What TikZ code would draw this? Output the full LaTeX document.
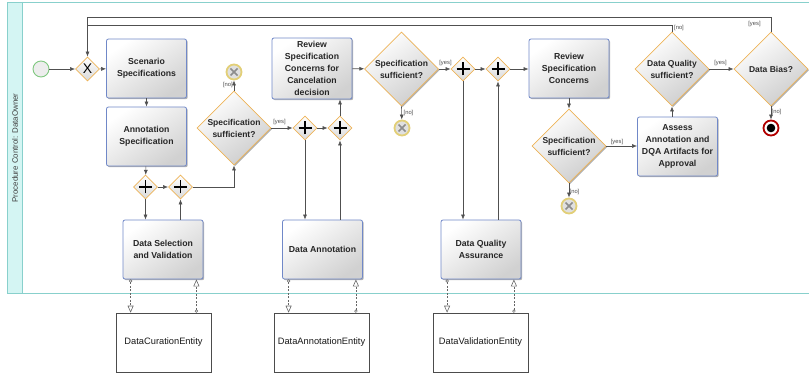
\documentclass[tikz,border=0pt]{standalone}
\usepackage{fontspec}
\setmainfont{Liberation Sans}
\usetikzlibrary{shapes.geometric,arrows.meta,shadows,calc}
\definecolor{lane}{HTML}{88D0CC}
\definecolor{lanefill}{HTML}{D4F5F3}
\definecolor{taskb}{HTML}{7088C8}
\definecolor{gwb}{HTML}{EEB458}
\definecolor{flowc}{HTML}{505050}
\definecolor{startc}{HTML}{80C880}
\definecolor{cancelc}{HTML}{E2CF78}
\begin{document}
\begin{tikzpicture}[x=1pt,y=-1pt,
  task/.style={rectangle, rounded corners=2pt, draw=taskb, line width=0.8pt, top color=white, bottom color=black!18,
    shading angle=35,
    minimum width=80pt, minimum height=59pt, align=center, text=black!85,
    font=\fontsize{8.7}{12}\selectfont\bfseries,
    drop shadow={shadow xshift=1.2pt, shadow yshift=-1.2pt, opacity=0.3, fill=black}},
  gw/.style={diamond, draw=gwb, line width=0.8pt, top color=white, bottom color=black!15,
    minimum width=24pt, minimum height=24pt, inner sep=0pt},
  plus/.style={gw, path picture={
    \draw[line width=1.6pt,black] ([xshift=-6.5pt]path picture bounding box.center) -- ([xshift=6.5pt]path picture bounding box.center);
    \draw[line width=1.6pt,black] ([yshift=-6.5pt]path picture bounding box.center) -- ([yshift=6.5pt]path picture bounding box.center);}},
  xgw/.style={gw, font=\fontsize{14}{14}\selectfont},
  decision/.style={diamond, draw=gwb, line width=0.8pt, top color=white, bottom color=black!20,
    shading angle=35,
    minimum width=74pt, minimum height=74pt, inner sep=0pt,
    drop shadow={shadow xshift=1.2pt, shadow yshift=-1.2pt, opacity=0.3, fill=black}},
  dtext/.style={align=center, text=black!85, font=\fontsize{8.5}{12}\selectfont\bfseries, inner sep=0pt},
  startev/.style={circle, draw=startc, line width=0.9pt, fill=black!7, minimum size=16pt, inner sep=0pt},
  cancelev/.style={circle, draw=cancelc, line width=1.8pt, fill=black!12, minimum size=15pt, inner sep=0pt,
    path picture={
    \draw[line width=1.5pt,black!45] ([shift={(-3.5pt,-3.5pt)}]path picture bounding box.center) -- ([shift={(3.5pt,3.5pt)}]path picture bounding box.center);
    \draw[line width=1.5pt,black!45] ([shift={(-3.5pt,3.5pt)}]path picture bounding box.center) -- ([shift={(3.5pt,-3.5pt)}]path picture bounding box.center);}},
  endev/.style={circle, draw=red!70!black, line width=1.8pt, fill=white, minimum size=15pt, inner sep=0pt,
    path picture={\fill[black] (path picture bounding box.center) circle[radius=4.3pt];}},
  entity/.style={rectangle, draw=black!70, line width=0.6pt, fill=white, minimum width=95pt, minimum height=59pt,
    font=\fontsize{9.3}{11}\selectfont, text=black!90},
  flow/.style={draw=flowc, line width=0.6pt, -{Latex[length=5pt,width=4pt]}},
  plainflow/.style={draw=flowc, line width=0.6pt},
  assoc/.style={draw=black!60, line width=0.5pt, dash pattern=on 2pt off 1.5pt,
    {Circle[open,length=3.2pt,width=3.2pt,line width=0.5pt]}-{Triangle[open,length=7pt,width=6pt,line width=0.6pt]}},
  lbl/.style={font=\fontsize{5.8}{6}\selectfont, text=black!70, inner sep=0pt}
]
\useasboundingbox (0,0) rectangle (809,374);
% pool / lane
\fill[lanefill] (7,2) rectangle (22,293);
\draw[lane, line width=0.9pt] (809,2) -- (7,2) -- (7,293) -- (809,293);
\draw[lane, line width=0.9pt] (22,2) -- (22,293);
\node[rotate=90, font=\fontsize{7.9}{9}\selectfont, text=black!75] (lanelbl) at (15,148) {Procedure Control: DataOwner};

% events and gateways
\node[startev] (st) at (41,69) {};
\node[xgw] (gx) at (87.5,69) {X};
\node[task] (scen) at (146.5,68.5) {Scenario\\Specifications};
\node[task] (annspec) at (146.5,136.5) {Annotation\\Specification};
\node[plus] (g1) at (145.5,187) {};
\node[plus] (g2) at (180.5,187) {};
\node[task] (dsv) at (163,249.5) {Data Selection\\and Validation};
\node[decision] (d1) at (234,128) {};
\node[dtext] (d1t) at (234,128) {Specification\\sufficient?};
\node[cancelev] (c1) at (234,72) {};
\node[plus] (g3) at (305,128) {};
\node[plus] (g4) at (340,128) {};
\node[task] (da) at (322.5,249.5) {Data Annotation};
\node[task] (rev1) at (312,68.5) {Review\\Specification\\Concerns for\\Cancelation\\decision};
\node[decision] (d2) at (401.5,69) {};
\node[dtext] (d2t) at (401.5,69) {Specification\\sufficient?};
\node[cancelev] (c2) at (402,128) {};
\node[plus] (g5) at (463,69) {};
\node[plus] (g6) at (498,69) {};
\node[task] (dqa) at (481,249.5) {Data Quality\\Assurance};
\node[task] (rev2) at (569,68.5) {Review\\Specification\\Concerns};
\node[decision] (d3) at (569,146) {};
\node[dtext] (d3t) at (569,146) {Specification\\sufficient?};
\node[cancelev] (c3) at (569,206) {};
\node[task] (assess) at (677.5,146.5) {Assess\\Annotation and\\DQA Artifacts for\\Approval};
\node[decision] (d4) at (672,69) {};
\node[dtext] (d4t) at (672,69) {Data Quality\\sufficient?};
\node[decision] (d5) at (771,69) {};
\node[dtext] (d5t) at (771,69) {Data Bias?};
\node[endev] (en) at (771,128) {};

% entities
\node[entity] (dce) at (163.5,342.5) {DataCurationEntity};
\node[entity] (dae) at (321.5,342.5) {DataAnnotationEntity};
\node[entity] (dve) at (480.5,342.5) {DataValidationEntity};

% sequence flows
\draw[flow] (st) -- (gx);
\draw[flow] (gx) -- (scen);
\draw[flow] (scen) -- (annspec);
\draw[flow] (annspec) -- (g1);
\draw[flow] (g1) -- (g2);
\draw[flow] (g1) -- (g1 |- dsv.north);
\draw[flow] (g2 |- dsv.north) -- (g2);
\draw[flow] (g2.east) -| (d1.south);
\draw[flow] (d1.north) -- (c1);
\draw[flow] (d1.east) -- (g3);
\draw[flow] (g3) -- (g4);
\draw[flow] (g3) -- (g3 |- da.north);
\draw[flow] (g4 |- da.north) -- (g4);
\draw[flow] (g4) -- (g4 |- rev1.south);
\draw[flow] (rev1) -- (d2);
\draw[flow] (d2.south) -- (c2);
\draw[flow] (d2.east) -- (g5);
\draw[flow] (g5) -- (g6);
\draw[flow] (g5) -- (g5 |- dqa.north);
\draw[flow] (g6 |- dqa.north) -- (g6);
\draw[flow] (g6) -- (g6 -| rev2.west);
\draw[flow] (rev2.south) -- (d3.north);
\draw[flow] (d3.east) -- (assess.west |- d3.east);
\draw[flow] (d3.south) -- (c3);
\draw[flow] (assess.north -| d4) -- (d4.south);
\draw[flow] (d4.east) -- (d5.west);
\draw[flow] (d5.south) -- (en);
% loop-backs
\coordinate (loopA) at (87.5,17);
\coordinate (loopB) at (87.5,25);
\draw[flow] (d5.north) |- (loopA) -- (gx.north);
\draw[plainflow] (d4.north) |- (loopB);

% flow labels
\node[lbl, anchor=east] (l1) at (233,85) {[no]};
\node[lbl] (l2) at (279.5,122) {[yes]};
\node[lbl] (l3) at (408.5,113) {[no]};
\node[lbl] (l4) at (445.5,63) {[yes]};
\node[lbl] (l5) at (617,142) {[yes]};
\node[lbl] (l6) at (574.5,192) {[no]};
\node[lbl] (l7) at (720.5,63) {[yes]};
\node[lbl] (l8) at (679,28) {[no]};
\node[lbl] (l9) at (754.5,24.5) {[yes]};
\node[lbl] (l10) at (776.5,112) {[no]};

% associations
\coordinate (a1) at ([xshift=8pt]dsv.south west);
\coordinate (a2) at ([xshift=-7pt]dsv.south east);
\draw[assoc] (a1) -- (a1 |- dce.north);
\draw[assoc] (a2 |- dce.north) -- (a2);
\coordinate (a3) at ([xshift=6.5pt]da.south west);
\coordinate (a4) at ([xshift=-7pt]da.south east);
\draw[assoc] (a3) -- (a3 |- dae.north);
\draw[assoc] (a4 |- dae.north) -- (a4);
\coordinate (a5) at ([xshift=6.5pt]dqa.south west);
\coordinate (a6) at ([xshift=-7.5pt]dqa.south east);
\draw[assoc] (a5) -- (a5 |- dve.north);
\draw[assoc] (a6 |- dve.north) -- (a6);
\end{tikzpicture}
\end{document}
